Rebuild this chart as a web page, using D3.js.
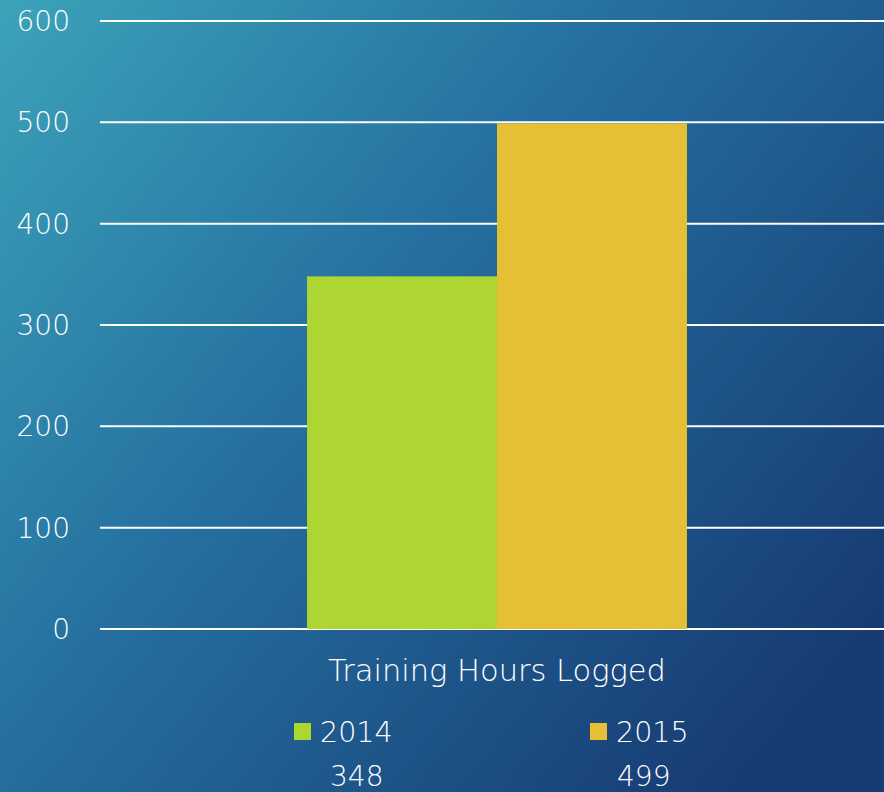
<!DOCTYPE html>
<html>
<head>
<meta charset="utf-8">
<script src="https://cdn.jsdelivr.net/npm/d3@7"></script>
<style>
  html, body { margin: 0; padding: 0; overflow: hidden; }
  svg { display: block; font-family: "DejaVu Sans", "Lato", sans-serif; font-weight: 200; }
</style>
</head>
<body>
<svg id="chart"></svg>
<script>
// chart data
const categories = ["Training Hours Logged"];
const years = ["2014", "2015"];
const values = [348, 499];
const colors = ["#add633", "#e5c034"];
const yTicks = [0, 100, 200, 300, 400, 500, 600];

const width = 884, height = 792;
const margin = { top: 21, right: -10, bottom: 163, left: 100 };

const svg = d3.select("#chart").attr("width", width).attr("height", height);

// background gradient
const defs = svg.append("defs");
const grad = defs.append("linearGradient")
  .attr("id", "bg")
  .attr("x1", "0%").attr("y1", "0%")
  .attr("x2", "100%").attr("y2", "75%");
grad.append("stop").attr("offset", "0%").attr("stop-color", "#3ca3b9");
grad.append("stop").attr("offset", "45%").attr("stop-color", "#2570a0");
grad.append("stop").attr("offset", "100%").attr("stop-color", "#173c74");
svg.append("rect").attr("width", width).attr("height", height).attr("fill", "url(#bg)");

const yScale = d3.scaleLinear()
  .domain([0, 600])
  .range([height - margin.bottom, margin.top]);

const x0 = d3.scaleBand()
  .domain(categories)
  .range([margin.left, width - margin.right])
  .paddingOuter(0.545);

const x1 = d3.scaleBand()
  .domain(years)
  .range([0, x0.bandwidth()]);

// gridlines
svg.append("g")
  .selectAll("line")
  .data(yTicks)
  .join("line")
  .attr("x1", margin.left)
  .attr("x2", width)
  .attr("y1", (d) => yScale(d))
  .attr("y2", (d) => yScale(d))
  .attr("stroke", "#ffffff")
  .attr("stroke-width", 2);

// y labels
svg.append("g")
  .selectAll("text")
  .data(yTicks)
  .join("text")
  .attr("x", 70)
  .attr("y", (d) => yScale(d) + 10)
  .attr("text-anchor", "end")
  .attr("fill", "#ffffff")
  .attr("font-size", 28)
  .text((d) => d);

// bars
const group = svg.append("g")
  .attr("transform", `translate(${x0(categories[0])},0)`);

group.selectAll("rect")
  .data(years)
  .join("rect")
  .attr("x", (d) => x1(d))
  .attr("width", x1.bandwidth())
  .attr("y", (d, i) => yScale(values[i]))
  .attr("height", (d, i) => yScale(0) - yScale(values[i]))
  .attr("fill", (d, i) => colors[i]);

// category label
svg.append("text")
  .attr("x", x0(categories[0]) + x0.bandwidth() / 2)
  .attr("y", 681)
  .attr("text-anchor", "middle")
  .attr("fill", "#ffffff")
  .attr("font-size", 30.5)
  .text(categories[0]);

// legend with data table values
const legendX = [294, 590];
const legend = svg.append("g")
  .selectAll("g")
  .data(years)
  .join("g")
  .attr("transform", (d, i) => `translate(${legendX[i]},0)`);

legend.append("rect")
  .attr("y", 723)
  .attr("width", 17)
  .attr("height", 17)
  .attr("fill", (d, i) => colors[i]);

legend.append("text")
  .attr("x", 26)
  .attr("y", 742)
  .attr("fill", "#ffffff")
  .attr("font-size", 28.5)
  .text((d) => d);

legend.append("text")
  .attr("x", (d, i) => (i === 0 ? 36 : 27))
  .attr("y", 786)
  .attr("fill", "#ffffff")
  .attr("font-size", 28)
  .text((d, i) => values[i]);
</script>
</body>
</html>
